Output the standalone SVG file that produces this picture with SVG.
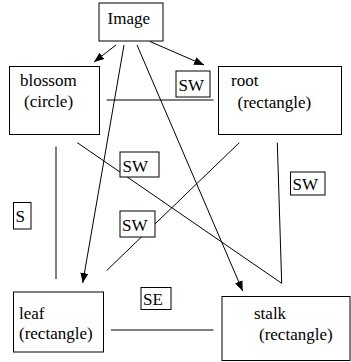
<svg xmlns="http://www.w3.org/2000/svg" width="351" height="362" viewBox="0 0 351 362">
<defs>
<style>
.box{fill:#fff;stroke:#000;stroke-width:1}
.lbl{fill:#fff;stroke:#000;stroke-width:1}
.ln{stroke:#000;stroke-width:1;fill:none}
.t{font-family:'Liberation Serif','DejaVu Serif',serif;font-size:17px;fill:#000}
</style>
<marker id="ah" markerUnits="userSpaceOnUse" markerWidth="10" markerHeight="10" viewBox="0 0 10 10" refX="10" refY="5" orient="auto">
<path d="M0,1 L10,5 L0,9 Z" fill="#000"/>
</marker>
</defs>
<rect width="351" height="362" fill="#fff"/>
<g id="connectors">
<line class="ln" x1="116" y1="45" x2="94" y2="62" marker-end="url(#ah)"/>
<line class="ln" x1="150" y1="41.5" x2="204" y2="65" marker-end="url(#ah)"/>
<line class="ln" x1="124" y1="45" x2="82.7" y2="283" marker-end="url(#ah)"/>
<line class="ln" x1="137" y1="45" x2="242.7" y2="291" marker-end="url(#ah)"/>
<line class="ln" x1="106.5" y1="100" x2="213.5" y2="100"/>
<line class="ln" x1="56" y1="146.5" x2="56" y2="279"/>
<line class="ln" x1="77.3" y1="142.7" x2="281.7" y2="283.3"/>
<line class="ln" x1="277.3" y1="142.7" x2="281.7" y2="283.3"/>
<line class="ln" x1="239.3" y1="142.7" x2="106.7" y2="270.5"/>
<line class="ln" x1="111" y1="330" x2="213.5" y2="330"/>
</g>
<g id="image">
<rect class="box" x="99" y="3" width="64" height="38"/>
<text class="t" x="107.5" y="24">Image</text>
</g>
<g id="blossom">
<rect class="box" x="9.5" y="66.5" width="90" height="68"/>
<text class="t" x="20" y="86">blossom</text>
<text class="t" x="24" y="106.5">(circle)</text>
</g>
<g id="root">
<rect class="box" x="218.5" y="66.5" width="123" height="68"/>
<text class="t" x="231" y="86">root</text>
<text class="t" x="237.5" y="108">(rectangle)</text>
</g>
<g id="leaf">
<rect class="box" x="13.5" y="292" width="90" height="60"/>
<text class="t" x="19" y="319">leaf</text>
<text class="t" x="19" y="339">(rectangle)</text>
</g>
<g id="stalk">
<rect class="box" x="222" y="296.5" width="128" height="64"/>
<text class="t" x="254" y="319">stalk</text>
<text class="t" x="259" y="340">(rectangle)</text>
</g>
<g id="labels">
<rect class="lbl" x="176" y="71" width="34" height="26"/>
<text class="t" x="178.5" y="91">SW</text>
<rect class="lbl" x="120" y="152" width="39" height="25"/>
<text class="t" x="122.5" y="171.5">SW</text>
<rect class="lbl" x="120" y="211" width="35" height="26"/>
<text class="t" x="122" y="230.5">SW</text>
<rect class="lbl" x="290.5" y="172" width="34.5" height="23"/>
<text class="t" x="292.5" y="190">SW</text>
<rect class="lbl" x="13.5" y="202.5" width="17.5" height="26.5"/>
<text class="t" x="15.5" y="222">S</text>
<rect class="lbl" x="141" y="287.5" width="30" height="22"/>
<text class="t" x="143" y="305">SE</text>
</g>
</svg>
